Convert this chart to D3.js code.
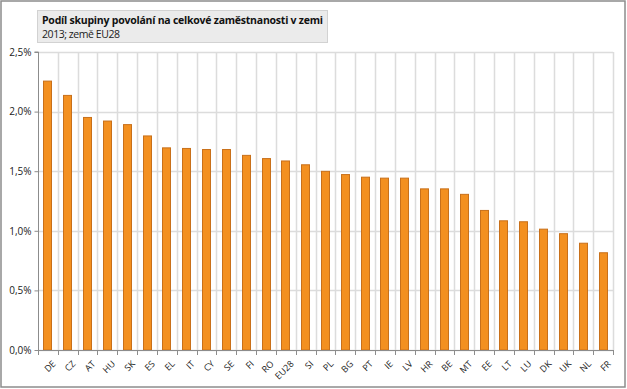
<!DOCTYPE html>
<html><head><meta charset="utf-8">
<script src="https://cdn.jsdelivr.net/npm/d3@7"></script>
<style>
html,body{margin:0;padding:0;background:#fff;}
svg{display:block;font-family:"Open Sans","DejaVu Sans",sans-serif;}
</style></head>
<body>
<svg id="c" width="627" height="389"></svg>
<script>
const categories = ["DE","CZ","AT","HU","SK","ES","EL","IT","CY","SE","FI","RO","EU28","SI","PL","BG","PT","IE","LV","HR","BE","MT","EE","LT","LU","DK","UK","NL","FR"];
const values = [2.26,2.14,1.955,1.925,1.895,1.80,1.70,1.695,1.686,1.686,1.637,1.61,1.59,1.558,1.503,1.476,1.454,1.446,1.446,1.356,1.356,1.31,1.175,1.088,1.08,1.018,0.98,0.90,0.82];
const yTicks = [0,0.5,1.0,1.5,2.0,2.5];
const yTickLabels = ["0,0%","0,5%","1,0%","1,5%","2,0%","2,5%"];
const title = "Podíl skupiny povolání na celkové zaměstnanosti v zemi";
const subtitle = "2013; země EU28";

(function(){
const svg = d3.select("#c");
const W = 627, H = 389;
const pL = 38, pR = 613, pT = 52, pB = 350;

svg.append("rect").attr("x",1).attr("y",1).attr("width",W-3).attr("height",H-3)
  .attr("fill","#fff").attr("stroke","#8c8c8c").attr("stroke-width",1.5);

const x = d3.scaleBand().domain(categories).range([pL,pR]).paddingInner(0).paddingOuter(0);
const y = d3.scaleLinear().domain([0,2.5]).range([pB,pT]);

svg.append("g").selectAll("line").data(yTicks).join("line")
  .attr("x1",pL).attr("x2",pR)
  .attr("y1",d=>Math.round(y(d))+0.5).attr("y2",d=>Math.round(y(d))+0.5)
  .attr("stroke","#dcdcdc").attr("stroke-width",1.5);

const bounds = categories.map(c=>x(c)).concat([pR]);
svg.append("g").selectAll("line").data(bounds.slice(1)).join("line")
  .attr("x1",d=>Math.round(d)+0.5).attr("x2",d=>Math.round(d)+0.5)
  .attr("y1",pT).attr("y2",pB)
  .attr("stroke","#dcdcdc").attr("stroke-width",1.5);

const bw = 9;
svg.append("g").selectAll("rect").data(values).join("rect")
  .attr("x",(d,i)=>Math.round(x(categories[i])+x.bandwidth()/2-bw/2)+0.5)
  .attr("y",d=>y(d)+0.5)
  .attr("width",bw-1)
  .attr("height",d=>pB-y(d)-0.5)
  .attr("fill","#f39020").attr("stroke","#c8701a").attr("stroke-width",1);

const yAxis = d3.axisLeft(y).tickValues(yTicks).tickFormat((d,i)=>yTickLabels[i]).tickSize(4).tickPadding(3);
const gy = svg.append("g").attr("transform",`translate(${pL+0.5},0)`).call(yAxis);
gy.select(".domain").attr("stroke","#8c8c8c").attr("d",`M-4,${pT}H0V${pB}`);
gy.selectAll(".tick line").attr("stroke","#8c8c8c");
gy.selectAll(".tick text").attr("fill","#222").attr("font-size",10).attr("font-family","Open Sans, DejaVu Sans, sans-serif");

const gx = svg.append("g");
gx.append("line").attr("x1",pL).attr("x2",pR).attr("y1",pB+0.5).attr("y2",pB+0.5).attr("stroke","#8c8c8c");
gx.selectAll("line.t").data(bounds).join("line").attr("class","t")
  .attr("x1",d=>Math.round(d)+0.5).attr("x2",d=>Math.round(d)+0.5)
  .attr("y1",pB).attr("y2",pB+5).attr("stroke","#8c8c8c");
gx.selectAll("text").data(categories).join("text")
  .attr("transform",d=>`translate(${x(d)+x.bandwidth()/2+4},${pB+10}) rotate(-45)`)
  .attr("text-anchor","end").attr("dy","0.7em")
  .attr("font-size",9).attr("fill","#222").text(d=>d);

const tb = svg.append("g");
tb.append("rect").attr("x",37.5).attr("y",10.5).attr("width",290).attr("height",32)
  .attr("fill","#ebebeb").attr("stroke","#d2d2d2");
tb.append("text").attr("x",42).attr("y",23.5).attr("font-size",10.5).attr("font-weight","bold").attr("fill","#111")
  .attr("textLength",281).attr("lengthAdjust","spacing").text(title);
tb.append("text").attr("x",42).attr("y",37.5).attr("font-size",10.5).attr("fill","#222")
  .attr("textLength",78).attr("lengthAdjust","spacing").text(subtitle);
})();
</script>
</body></html>
